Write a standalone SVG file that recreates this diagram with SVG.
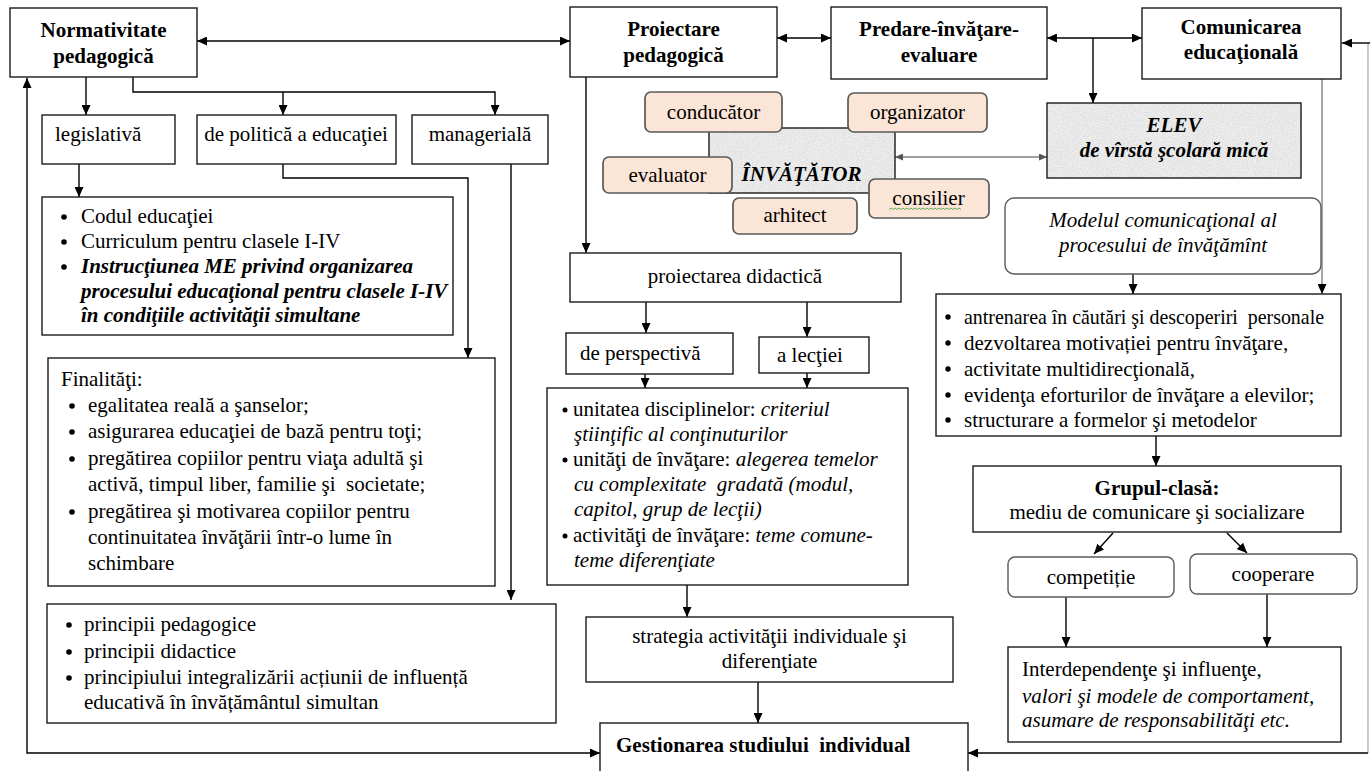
<svg xmlns="http://www.w3.org/2000/svg" width="1370" height="771" viewBox="0 0 1370 771">
<defs>
<marker id="ah" viewBox="0 0 10 9" refX="10" refY="4.5" markerWidth="10" markerHeight="9" markerUnits="userSpaceOnUse" orient="auto-start-reverse"><path d="M0,0 L10,4.5 L0,9 z" fill="#000"/></marker>
<marker id="ahg" viewBox="0 0 8 7" refX="8" refY="3.5" markerWidth="8" markerHeight="7" markerUnits="userSpaceOnUse" orient="auto-start-reverse"><path d="M0,0 L8,3.5 L0,7 z" fill="#555"/></marker>
<filter id="tex" x="0" y="0" width="1" height="1">
<feTurbulence type="fractalNoise" baseFrequency="0.8" numOctaves="2" seed="5"/>
<feColorMatrix type="matrix" values="0 0 0 0 0.5  0 0 0 0 0.5  0 0 0 0 0.5  0.8 0 0 0 -0.25"/>
</filter>
</defs>
<style>
.box{fill:#fff;stroke:#1a1a1a;stroke-width:1.4}
.peach{fill:#fbe5d6;stroke:#595959;stroke-width:1.7}
.rbox{fill:#fff;stroke:#595959;stroke-width:1.4}
.gray{fill:#f0f0f0}
.grayb{fill:none;stroke:#1a1a1a;stroke-width:1.4}
text{font-family:"Liberation Serif","Times New Roman",serif;font-size:21px;fill:#000}
.b{font-weight:bold}
.i{font-style:italic}
.c{text-anchor:middle}
.pre{white-space:pre}
.ln{fill:none;stroke:#000;stroke-width:1.4}
.lg{fill:none;stroke:#808080;stroke-width:1.4}
.lgl{fill:none;stroke:#a6a6a6;stroke-width:1.2}
.dot{fill:#000}
</style>

<g id="connectors">
<line class="ln" x1="197" y1="41" x2="570" y2="41" marker-start="url(#ah)" marker-end="url(#ah)"/>
<line class="ln" x1="777" y1="38" x2="831" y2="38" marker-start="url(#ah)" marker-end="url(#ah)"/>
<line class="ln" x1="1047" y1="38" x2="1142" y2="38" marker-start="url(#ah)" marker-end="url(#ah)"/>
<line class="ln" x1="1093" y1="38" x2="1093" y2="103" marker-end="url(#ah)"/>
<line class="lgl" x1="1368" y1="43" x2="1368" y2="753"/>
<line class="ln" x1="1370" y1="43" x2="1342" y2="43" marker-end="url(#ah)"/>
<line class="ln" x1="1368" y1="753" x2="968" y2="753" marker-end="url(#ah)"/>
<path class="ln" d="M27,78 L27,753 L600,753" marker-start="url(#ah)" marker-end="url(#ah)"/>
<line class="ln" x1="86" y1="77" x2="86" y2="115" marker-end="url(#ah)"/>
<path class="ln" d="M133,77 L133,92 L495,92 L495,115" marker-end="url(#ah)"/>
<line class="ln" x1="283" y1="92" x2="283" y2="115" marker-end="url(#ah)"/>
<line class="ln" x1="79" y1="164" x2="79" y2="197" marker-end="url(#ah)"/>
<path class="ln" d="M283,164 L283,178 L468,178 L468,358" marker-end="url(#ah)"/>
<line class="ln" x1="511" y1="164" x2="511" y2="600" marker-end="url(#ah)"/>
<line class="ln" x1="586" y1="77" x2="586" y2="253" marker-end="url(#ah)"/>
<line class="ln" x1="646" y1="302" x2="646" y2="333" marker-end="url(#ah)"/>
<line class="ln" x1="807" y1="302" x2="807" y2="337" marker-end="url(#ah)"/>
<line class="ln" x1="645" y1="374" x2="645" y2="388" marker-end="url(#ah)"/>
<line class="ln" x1="807" y1="373" x2="807" y2="388" marker-end="url(#ah)"/>
<line class="ln" x1="687" y1="585" x2="687" y2="617" marker-end="url(#ah)"/>
<line class="ln" x1="758" y1="682" x2="758" y2="723" marker-end="url(#ah)"/>
<line class="lg" x1="895" y1="157" x2="1047" y2="157" marker-start="url(#ahg)" marker-end="url(#ahg)"/>
<line class="lg" x1="1322" y1="79" x2="1322" y2="294" marker-end="url(#ah)"/>
<line class="ln" x1="1133" y1="274" x2="1133" y2="294" marker-end="url(#ah)"/>
<line class="ln" x1="1156" y1="436" x2="1156" y2="466" marker-end="url(#ah)"/>
<line class="ln" x1="1113" y1="533" x2="1094" y2="554" marker-end="url(#ah)"/>
<line class="ln" x1="1227" y1="533" x2="1247" y2="553" marker-end="url(#ah)"/>
<line class="ln" x1="1066" y1="597" x2="1066" y2="647" marker-end="url(#ah)"/>
<line class="ln" x1="1267" y1="594" x2="1267" y2="647" marker-end="url(#ah)"/>
</g>

<g id="n-normativitate">
<rect class="box" x="10" y="8" width="187" height="69"/>
<text class="b c" x="103.5" y="37" font-size="21.5">Normativitate</text>
<text class="b c" x="103.5" y="63" font-size="21.5">pedagogică</text>
</g>
<g id="n-proiectare">
<rect class="box" x="570" y="7" width="207" height="70"/>
<text class="b c" x="673.5" y="36" font-size="21.5">Proiectare</text>
<text class="b c" x="673.5" y="62" font-size="21.5">pedagogică</text>
</g>
<g id="n-predare">
<rect class="box" x="831" y="7" width="216" height="72"/>
<text class="b c" x="939" y="36" font-size="21.5">Predare-învăţare-</text>
<text class="b c" x="939" y="62" font-size="21.5">evaluare</text>
</g>
<g id="n-comunicarea">
<rect class="box" x="1142" y="8" width="199" height="71"/>
<text class="b c" x="1241" y="34" font-size="20">Comunicarea</text>
<text class="b c" x="1241" y="59" font-size="20">educaţională</text>
</g>

<g id="n-invatator">
<rect class="gray" x="709" y="128" width="186" height="65"/>
<rect fill="#000" x="709" y="128" width="186" height="65" filter="url(#tex)"/>
<rect class="grayb" x="709" y="128" width="186" height="65"/>
<text class="b i c" x="801.5" y="181" font-size="21.5">ÎNVĂŢĂTOR</text>
</g>
<g id="n-conducator">
<rect class="peach" x="645" y="92" width="137" height="40" rx="6"/>
<text class="c" x="713.5" y="119" font-size="22">conducător</text>
</g>
<g id="n-organizator">
<rect class="peach" x="848" y="93" width="139" height="39" rx="6"/>
<text class="c" x="917.5" y="119" font-size="22">organizator</text>
</g>
<g id="n-evaluator">
<rect class="peach" x="603" y="157" width="129" height="36" rx="6"/>
<text class="c" x="667.5" y="182" font-size="19.5">evaluator</text>
</g>
<g id="n-consilier">
<rect class="peach" x="869" y="179" width="120" height="39" rx="6"/>
<text class="c" x="928.5" y="205" font-size="21.5">consilier</text>
<path d="M889,209.5 l2,-1.5 l2,1.5 l2,-1.5 l2,1.5 l2,-1.5 l2,1.5 l2,-1.5 l2,1.5 l2,-1.5 l2,1.5 l2,-1.5 l2,1.5 l2,-1.5 l2,1.5 l2,-1.5 l2,1.5 l2,-1.5 l2,1.5 l2,-1.5 l2,1.5 l2,-1.5 l2,1.5 l2,-1.5 l2,1.5 l2,-1.5 l2,1.5 l2,-1.5 l2,1.5 l2,-1.5 l2,1.5 l2,-1.5 l2,1.5 l2,-1.5 l2,1.5 l2,-1.5 l2,1.5" fill="none" stroke="#5aa04a" stroke-width="0.9"/>
</g>
<g id="n-arhitect">
<rect class="peach" x="733" y="198" width="124" height="36" rx="6"/>
<text class="c" x="795" y="222" font-size="19">arhitect</text>
</g>

<g id="n-elev">
<rect class="gray" x="1047" y="103" width="254" height="75"/>
<rect fill="#000" x="1047" y="103" width="254" height="75" filter="url(#tex)"/>
<rect class="grayb" x="1047" y="103" width="254" height="75"/>
<text class="b i c" x="1174" y="132" font-size="21.5">ELEV</text>
<text class="b i c" x="1174" y="157" font-size="21.5">de vîrstă şcolară mică</text>
</g>

<g id="n-modelul">
<rect class="rbox" x="1005" y="198" width="316" height="76" rx="9"/>
<text class="i c" x="1163" y="227" font-size="22">Modelul comunicaţional al</text>
<text class="i c" x="1163" y="252" font-size="22">procesului de învăţămînt</text>
</g>

<g id="n-lista-dreapta">
<rect class="box" x="936" y="294" width="405" height="142"/>
<circle class="dot" cx="948" cy="317" r="2.7"/>
<circle class="dot" cx="948" cy="343" r="2.7"/>
<circle class="dot" cx="948" cy="369" r="2.7"/>
<circle class="dot" cx="948" cy="395" r="2.7"/>
<circle class="dot" cx="948" cy="420" r="2.7"/>
<text class="pre" x="964" y="324" font-size="20" textLength="360" lengthAdjust="spacingAndGlyphs">antrenarea în căutări şi descoperiri  personale</text>
<text x="964" y="350" font-size="20.5">dezvoltarea motivației pentru învăţare,</text>
<text x="964" y="376" font-size="20">activitate multidirecţională,</text>
<text x="964" y="402" font-size="20">evidenţa eforturilor de învăţare a elevilor;</text>
<text x="964" y="427" font-size="20.5">structurare a formelor şi metodelor</text>
</g>

<g id="n-grupul">
<rect class="box" x="973" y="466" width="368" height="66"/>
<text class="b c" x="1157" y="495" font-size="20">Grupul-clasă:</text>
<text class="c" x="1157" y="519" font-size="20">mediu de comunicare şi socializare</text>
</g>
<g id="n-competitie">
<rect class="rbox" x="1008" y="557" width="166" height="40" rx="7"/>
<text class="c" x="1091" y="584" font-size="21.5">competiție</text>
</g>
<g id="n-cooperare">
<rect class="rbox" x="1190" y="554" width="167" height="40" rx="7"/>
<text class="c" x="1273" y="581" font-size="21.5">cooperare</text>
</g>
<g id="n-interdependente">
<rect class="box" x="1008" y="647" width="333" height="95"/>
<text x="1022" y="676" font-size="22">Interdependenţe şi influenţe,</text>
<text class="i" x="1022" y="703" font-size="22">valori şi modele de comportament,</text>
<text class="i" x="1022" y="727" font-size="22">asumare de responsabilităţi etc.</text>
</g>

<g id="n-proiectarea-didactica">
<rect class="box" x="570" y="253" width="331" height="49"/>
<text class="c" x="735" y="283" font-size="21.5">proiectarea didactică</text>
</g>
<g id="n-perspectiva">
<rect class="box" x="566" y="333" width="167" height="41"/>
<text x="580" y="360" font-size="21.5">de perspectivă</text>
</g>
<g id="n-lectiei">
<rect class="box" x="759" y="337" width="110" height="36"/>
<text x="777" y="362" font-size="21.5">a lecţiei</text>
</g>
<g id="n-unitati">
<rect class="box" x="547" y="388" width="361" height="197"/>
<circle class="dot" cx="565" cy="410" r="2.5"/>
<circle class="dot" cx="565" cy="460" r="2.5"/>
<circle class="dot" cx="565" cy="536" r="2.5"/>
<text x="573" y="416" font-size="21.8">unitatea disciplinelor: <tspan class="i">criteriul</tspan></text>
<text class="i" x="574" y="441" font-size="21.8">ştiinţific al conţinuturilor</text>
<text x="573" y="466" font-size="21.8">unităţi de învăţare: <tspan class="i">alegerea temelor</tspan></text>
<text class="i pre" x="574" y="491" font-size="21.8">cu complexitate  gradată (modul,</text>
<text class="i" x="574" y="516" font-size="21.8">capitol, grup de lecţii)</text>
<text x="573" y="542" font-size="21.8">activităţi de învăţare: <tspan class="i">teme comune-</tspan></text>
<text class="i" x="574" y="567" font-size="21.8">teme diferenţiate</text>
</g>
<g id="n-strategia">
<rect class="box" x="586" y="617" width="367" height="65"/>
<text class="c" x="769.5" y="643" font-size="21.5">strategia activităţii individuale şi</text>
<text class="c" x="769.5" y="668" font-size="21.5">diferenţiate</text>
</g>
<g id="n-gestionarea">
<rect class="box" x="600" y="723" width="368" height="60"/>
<text class="b pre" x="616" y="752">Gestionarea studiului  individual</text>
</g>

<g id="n-legislativa">
<rect class="box" x="42" y="115" width="133" height="49"/>
<text x="55" y="141" font-size="21.5">legislativă</text>
</g>
<g id="n-politica">
<rect class="box" x="197" y="115" width="199" height="49"/>
<text class="c" x="296" y="141" font-size="21.5">de politică a educaţiei</text>
</g>
<g id="n-manageriala">
<rect class="box" x="412" y="115" width="136" height="49"/>
<text class="c" x="480" y="141" font-size="22">managerială</text>
</g>
<g id="n-codul">
<rect class="box" x="42" y="197" width="411" height="138"/>
<circle class="dot" cx="64" cy="217" r="2.8"/>
<circle class="dot" cx="64" cy="242" r="2.8"/>
<circle class="dot" cx="64" cy="267" r="2.8"/>
<text x="81" y="223" font-size="21.5">Codul educaţiei</text>
<text x="81" y="248" font-size="21.5">Curriculum pentru clasele I-IV</text>
<text class="b i" x="81" y="273" font-size="20">Instrucţiunea ME privind organizarea</text>
<text class="b i" x="81" y="298" font-size="20">procesului educaţional pentru clasele I-IV</text>
<text class="b i" x="81" y="322" font-size="20">în condiţiile activităţii simultane</text>
</g>
<g id="n-finalitati">
<rect class="box" x="48" y="358" width="447" height="228"/>
<text x="61" y="386" font-size="21.5">Finalităţi:</text>
<circle class="dot" cx="72" cy="406" r="2.8"/>
<circle class="dot" cx="72" cy="432" r="2.8"/>
<circle class="dot" cx="72" cy="459" r="2.8"/>
<circle class="dot" cx="72" cy="512" r="2.8"/>
<text x="88" y="412" font-size="21.5">egalitatea reală a şanselor;</text>
<text x="88" y="438" font-size="21.5">asigurarea educaţiei de bază pentru toţi;</text>
<text x="88" y="465" font-size="21.5">pregătirea copiilor pentru viaţa adultă şi</text>
<text class="pre" x="88" y="491" font-size="21.5">activă, timpul liber, familie şi  societate;</text>
<text x="88" y="518" font-size="21.5">pregătirea şi motivarea copiilor pentru</text>
<text x="88" y="544" font-size="21.5">continuitatea învăţării într-o lume în</text>
<text x="88" y="570" font-size="21.5">schimbare</text>
</g>
<g id="n-principii">
<rect class="box" x="47" y="604" width="509" height="119"/>
<circle class="dot" cx="69" cy="625" r="2.8"/>
<circle class="dot" cx="69" cy="652" r="2.8"/>
<circle class="dot" cx="69" cy="678" r="2.8"/>
<text x="84" y="631">principii pedagogice</text>
<text x="84" y="658">principii didactice</text>
<text x="84" y="684">principiului integralizării acțiunii de influență</text>
<text x="84" y="709">educativă în învățământul simultan</text>
</g>
</svg>
